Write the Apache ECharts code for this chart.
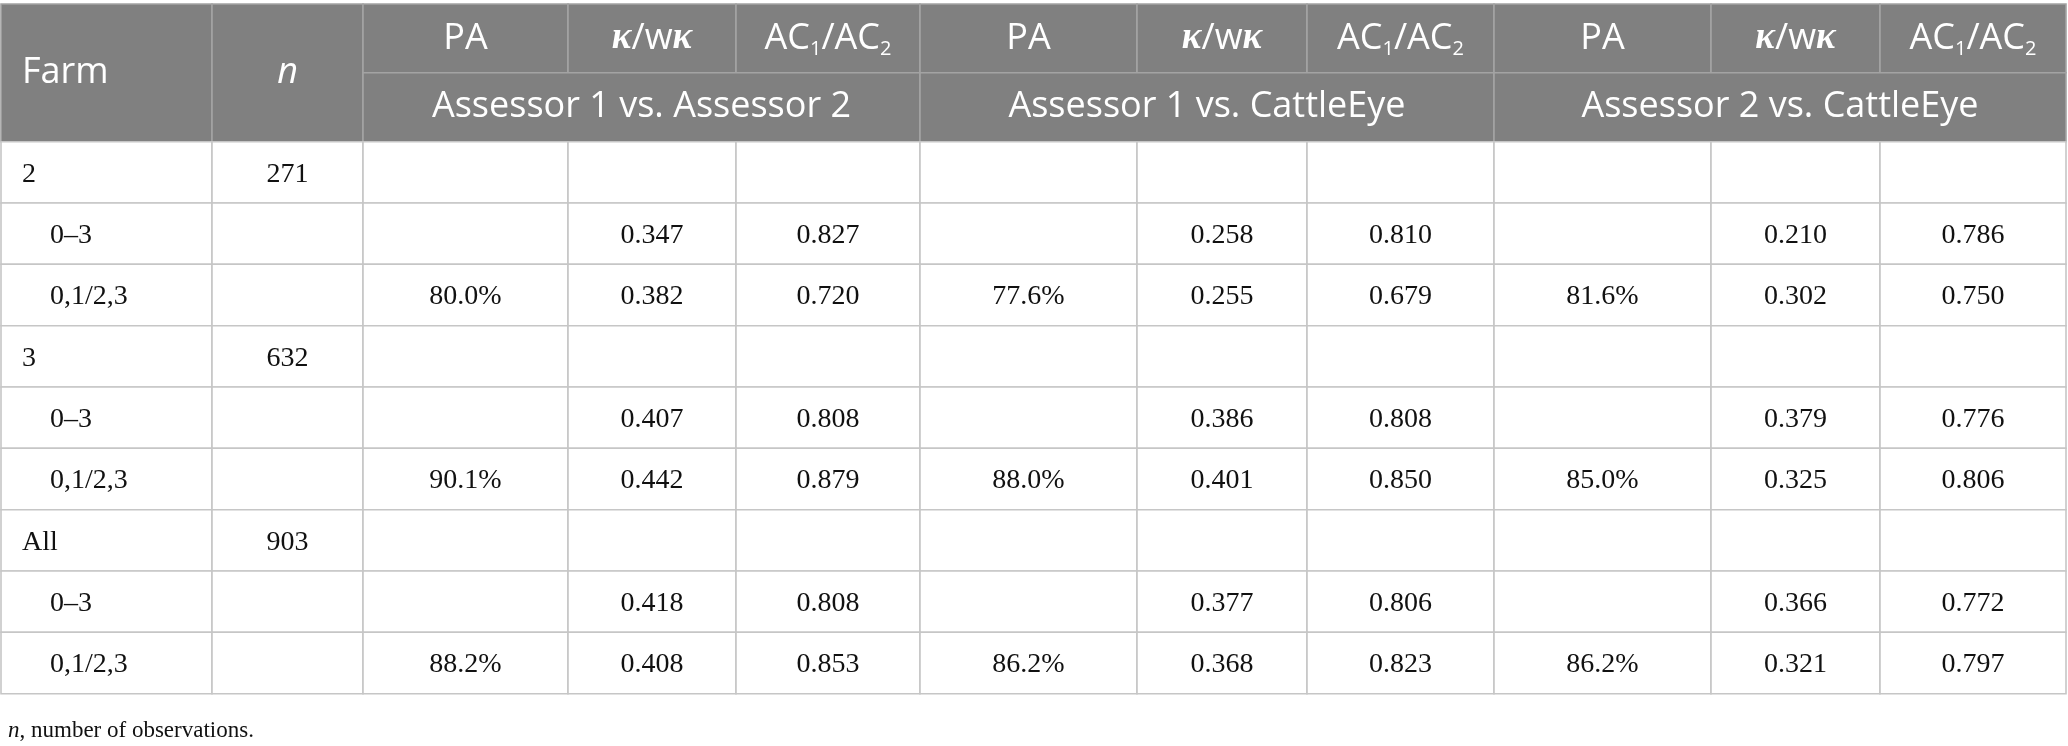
<!DOCTYPE html>
<html lang="en">
<head>
    <meta charset="UTF-8">
    <title>farm_agreement_table</title>
    <script src="https://cdn.jsdelivr.net/npm/echarts@6/dist/echarts.min.js"></script>
    <style>
        html,body{margin:0;padding:0;background:#fff}
        #table{width:2068px;height:746px}
    </style>
</head>
<body>
    <div id="table"></div>
    <script>
        // table content
        var farms = ['2', '3', 'All'];
        var nObs = [271, 632, 903];
        var scales = ['0\u20133', '0,1/2,3'];
        var comparisons = ['Assessor 1 vs. Assessor 2', 'Assessor 1 vs. CattleEye', 'Assessor 2 vs. CattleEye'];
        var metrics = ['PA', '{k|\u03ba}{r|/w}{k|\u03ba}', '{a|AC}{s|1}{a|/AC}{s|2}'];

        // PA only given for the 0,1/2,3 scale (per farm)
        var paA1vA2 = [80.0, 90.1, 88.2];
        var paA1vCE = [77.6, 88.0, 86.2];
        var paA2vCE = [81.6, 85.0, 86.2];
        // per farm: [0-3, 0,1/2,3]
        var kappaA1vA2 = [[0.347, 0.382], [0.407, 0.442], [0.418, 0.408]];
        var kappaA1vCE = [[0.258, 0.255], [0.386, 0.401], [0.377, 0.368]];
        var kappaA2vCE = [[0.210, 0.302], [0.379, 0.325], [0.366, 0.321]];
        var acA1vA2 = [[0.827, 0.720], [0.808, 0.879], [0.808, 0.853]];
        var acA1vCE = [[0.810, 0.679], [0.808, 0.850], [0.806, 0.823]];
        var acA2vCE = [[0.786, 0.750], [0.776, 0.806], [0.772, 0.797]];

        // layout (column / row edges in px)
        var colEdges = [1, 212, 363, 568, 736, 920, 1137, 1307, 1494, 1711, 1880, 2066];
        var rowEdges = [4, 72.7, 141.7, 203, 264.3, 325.7, 387, 448.3, 509.7, 571, 632.3, 693.7];

        var paAll = [paA1vA2, paA1vCE, paA2vCE];
        var kappaAll = [kappaA1vA2, kappaA1vCE, kappaA2vCE];
        var acAll = [acA1vA2, acA1vCE, acA2vCE];

        var cells = [];
        function cell(c0, c1, r0, r1, text, kind, align, pad) {
            cells.push({c0: c0, c1: c1, r0: r0, r1: r1, text: text, kind: kind, align: align || 'center', pad: pad || 0});
        }
        // header
        cell(0, 1, 0, 2, 'Farm', 'head', 'left', 21);
        cell(1, 2, 0, 2, 'n', 'headItalic');
        for (var g = 0; g < comparisons.length; g++) {
            for (var m = 0; m < metrics.length; m++) {
                cell(2 + 3 * g + m, 3 + 3 * g + m, 0, 1, metrics[m], 'head');
            }
            cell(2 + 3 * g, 5 + 3 * g, 1, 2, comparisons[g], 'head');
        }
        // body
        for (var f = 0; f < farms.length; f++) {
            var r = 2 + 3 * f;
            cell(0, 1, r, r + 1, farms[f], 'body', 'left', 21);
            cell(1, 2, r, r + 1, String(nObs[f]), 'body');
            for (var c = 2; c < 11; c++) cell(c, c + 1, r, r + 1, '', 'body');
            for (var s = 0; s < scales.length; s++) {
                var rr = r + 1 + s;
                cell(0, 1, rr, rr + 1, scales[s], 'body', 'left', 49);
                cell(1, 2, rr, rr + 1, '', 'body');
                for (var g2 = 0; g2 < 3; g2++) {
                    var base = 2 + 3 * g2;
                    cell(base, base + 1, rr, rr + 1, s === 1 ? paAll[g2][f].toFixed(1) + '%' : '', 'body');
                    cell(base + 1, base + 2, rr, rr + 1, kappaAll[g2][f][s].toFixed(3), 'body');
                    cell(base + 2, base + 3, rr, rr + 1, acAll[g2][f][s].toFixed(3), 'body');
                }
            }
        }

        var headRich = {
            k: {fontFamily: 'Liberation Serif', fontStyle: 'italic', fontWeight: 'bold', fontSize: 37, fill: '#fff', lineHeight: 40},
            r: {fontFamily: 'Open Sans', fontSize: 36, fill: '#fff', lineHeight: 40},
            a: {fontFamily: 'Open Sans', fontSize: 36, fill: '#fff', lineHeight: 40},
            s: {fontFamily: 'Open Sans', fontSize: 20, fill: '#fff', lineHeight: 40, padding: [22, 0, 0, 0]}
        };

        function renderItem(params, api) {
            var d = cells[params.dataIndex];
            var p0 = api.coord([colEdges[d.c0], rowEdges[d.r0]]);
            var p1 = api.coord([colEdges[d.c1], rowEdges[d.r1]]);
            var w = p1[0] - p0[0], h = p1[1] - p0[1];
            var isHead = d.kind !== 'body';
            var children = [{
                type: 'rect',
                shape: {x: p0[0], y: p0[1], width: w, height: h},
                style: {
                    fill: isHead ? '#808080' : '#fff',
                    stroke: isHead ? '#a3a3a3' : '#c6c6c6',
                    lineWidth: 1.6
                }
            }];
            if (d.text) {
                var tx = d.align === 'left' ? p0[0] + d.pad : p0[0] + w / 2;
                var style = {
                    text: d.text,
                    x: tx,
                    y: p0[1] + h / 2,
                    align: d.align,
                    verticalAlign: 'middle'
                };
                if (isHead) {
                    style.fill = '#fff';
                    style.fontFamily = 'Open Sans';
                    style.fontSize = 36;
                    style.fontStyle = d.kind === 'headItalic' ? 'italic' : 'normal';
                    style.rich = headRich;
                } else {
                    style.y += 2;
                    style.fill = '#111';
                    style.fontFamily = 'Liberation Serif';
                    style.fontSize = 28;
                }
                children.push({type: 'text', style: style});
            }
            return {type: 'group', children: children};
        }

        var mychart = echarts.init(document.getElementById('table'));
        var option = {
            animation: false,
            backgroundColor: '#fff',
            title: {
                text: '{i|n}, number of observations.',
                left: 3,
                top: 714,
                textStyle: {
                    fontFamily: 'Liberation Serif',
                    fontSize: 23,
                    fontWeight: 'normal',
                    color: '#111',
                    rich: {
                        i: {fontFamily: 'Liberation Serif', fontSize: 23, fontStyle: 'italic', color: '#111'}
                    }
                }
            },
            grid: {left: 0, right: 0, top: 0, bottom: 0},
            xAxis: {type: 'value', min: 0, max: 2068, show: false},
            yAxis: {type: 'value', min: 0, max: 746, inverse: true, show: false},
            series: [{
                type: 'custom',
                clip: false,
                renderItem: renderItem,
                data: cells.map(function (d) { return [colEdges[d.c0], rowEdges[d.r0]]; })
            }]
        };
        mychart.setOption(option);
    </script>
</body>
</html>
